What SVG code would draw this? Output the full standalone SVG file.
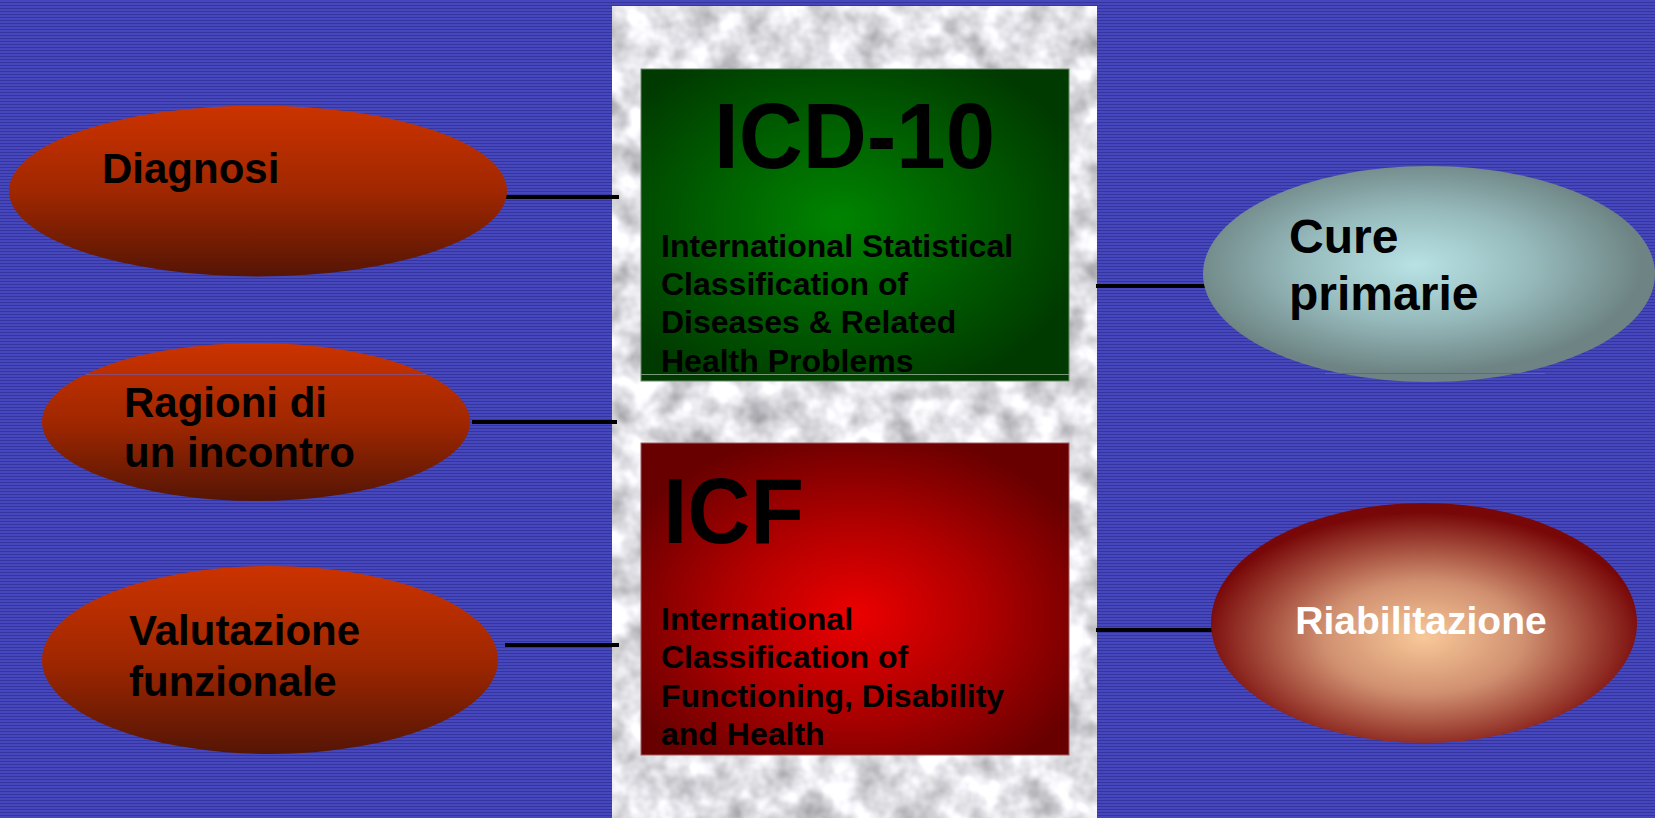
<svg xmlns="http://www.w3.org/2000/svg" width="1655" height="818" viewBox="0 0 1655 818">
  <defs>
    <pattern id="stripes" x="0" y="0" width="8" height="3" patternUnits="userSpaceOnUse">
      <rect x="0" y="0" width="8" height="3" fill="#4747bd"/>
      <rect x="0" y="2" width="8" height="1" fill="#3535a0"/>
    </pattern>
    <filter id="marble" x="0" y="0" width="1" height="1" color-interpolation-filters="sRGB">
      <feTurbulence type="fractalNoise" baseFrequency="0.035" numOctaves="3" seed="7" result="n"/>
      <feColorMatrix in="n" type="matrix" values="0.6 0 0 0 0.58  0.6 0 0 0 0.58  0.6 0 0 0 0.6  0 0 0 0 1"/>
    </filter>
    <linearGradient id="gOrange" x1="0" y1="0" x2="0" y2="1">
      <stop offset="0" stop-color="#cc3300"/>
      <stop offset="0.5" stop-color="#a02700"/>
      <stop offset="1" stop-color="#551505"/>
    </linearGradient>
    <radialGradient id="gGreen" cx="0.46" cy="0.48" r="0.6">
      <stop offset="0" stop-color="#008400"/>
      <stop offset="0.55" stop-color="#005c00"/>
      <stop offset="1" stop-color="#003a00"/>
    </radialGradient>
    <radialGradient id="gRed" cx="0.5" cy="0.55" r="0.6">
      <stop offset="0" stop-color="#ec0000"/>
      <stop offset="0.5" stop-color="#b00000"/>
      <stop offset="1" stop-color="#680000"/>
    </radialGradient>
    <radialGradient id="gCure" cx="0.47" cy="0.46" r="0.5">
      <stop offset="0" stop-color="#b8e2e4"/>
      <stop offset="0.5" stop-color="#98bcbe"/>
      <stop offset="1" stop-color="#6e8484"/>
    </radialGradient>
    <radialGradient id="gRiab" cx="0.5" cy="0.56" r="0.52">
      <stop offset="0" stop-color="#f8c898"/>
      <stop offset="0.45" stop-color="#d09070"/>
      <stop offset="1" stop-color="#780808"/>
    </radialGradient>
    <style>
      .lbl { font-family: "Liberation Sans", Arial, Helvetica, sans-serif; font-weight: bold; fill: #000; }
      .oval { font-size: 42px; }
      .sub { font-size: 32px; }
      .big { font-size: 93px; }
      .conn { stroke: #000; stroke-width: 4; fill: none; }
      .seam { stroke-width: 1.2; fill: none; }
    </style>
  </defs>

  <g id="background">
    <rect x="0" y="0" width="1655" height="818" fill="url(#stripes)"/>
    <rect x="612" y="6" width="485" height="812" fill="#e0e0e4" filter="url(#marble)"/>
  </g>

  <g id="connectors">
    <line class="conn" x1="505" y1="197" x2="619" y2="197"/>
    <line class="conn" x1="472" y1="422" x2="617" y2="422"/>
    <line class="conn" x1="505" y1="645" x2="619" y2="645"/>
    <line class="conn" x1="1096" y1="286" x2="1206" y2="286"/>
    <line class="conn" x1="1096" y1="630" x2="1214" y2="630"/>
  </g>

  <g id="icd10">
    <rect x="641" y="69" width="428" height="312" fill="url(#gGreen)" stroke="#6a8a6a" stroke-width="1"/>
    <line class="seam" x1="641" y1="374.5" x2="1069" y2="374.5" stroke="#7a9a7a"/>
    <text class="lbl big" x="714" y="168" textLength="281" lengthAdjust="spacingAndGlyphs">ICD-10</text>
    <text class="lbl sub" x="661" y="257">International Statistical</text>
    <text class="lbl sub" x="661" y="295">Classification of</text>
    <text class="lbl sub" x="661" y="333">Diseases &amp; Related</text>
    <text class="lbl sub" x="661" y="372">Health Problems</text>
  </g>

  <g id="icf">
    <rect x="641" y="443" width="428" height="312" fill="url(#gRed)" stroke="#a06060" stroke-width="1"/>
    <text class="lbl big" x="663" y="543" textLength="141" lengthAdjust="spacingAndGlyphs">ICF</text>
    <text class="lbl sub" x="661" y="630">International</text>
    <text class="lbl sub" x="661" y="668">Classification of</text>
    <text class="lbl sub" x="661" y="707">Functioning, Disability</text>
    <text class="lbl sub" x="661" y="745">and Health</text>
  </g>

  <g id="diagnosi">
    <ellipse cx="258" cy="191" rx="249" ry="85.5" fill="url(#gOrange)"/>
    <text class="lbl oval" x="102" y="183">Diagnosi</text>
  </g>

  <g id="ragioni">
    <ellipse cx="256" cy="422" rx="214" ry="79" fill="url(#gOrange)"/>
    <line class="seam" x1="86" y1="374.5" x2="426" y2="374.5" stroke="#8a4a70"/>
    <text class="lbl oval" x="124" y="417">Ragioni di</text>
    <text class="lbl oval" x="124" y="467">un incontro</text>
  </g>

  <g id="valutazione">
    <ellipse cx="270" cy="660" rx="228" ry="94" fill="url(#gOrange)"/>
    <text class="lbl oval" x="129" y="645">Valutazione</text>
    <text class="lbl oval" x="129" y="696">funzionale</text>
  </g>

  <g id="cure">
    <ellipse cx="1429" cy="274" rx="226" ry="108" fill="url(#gCure)"/>
    <line class="seam" x1="1325" y1="373.5" x2="1545" y2="373.5" stroke="#5a6a8a"/>
    <text class="lbl" style="font-size:48px" x="1289" y="253">Cure</text>
    <text class="lbl" style="font-size:48px" x="1289" y="310">primarie</text>
  </g>

  <g id="riabilitazione">
    <ellipse cx="1424" cy="623" rx="213" ry="120" fill="url(#gRiab)"/>
    <text class="lbl" style="font-size:39px; fill:#ffffff" x="1421" y="634" text-anchor="middle">Riabilitazione</text>
  </g>
</svg>
